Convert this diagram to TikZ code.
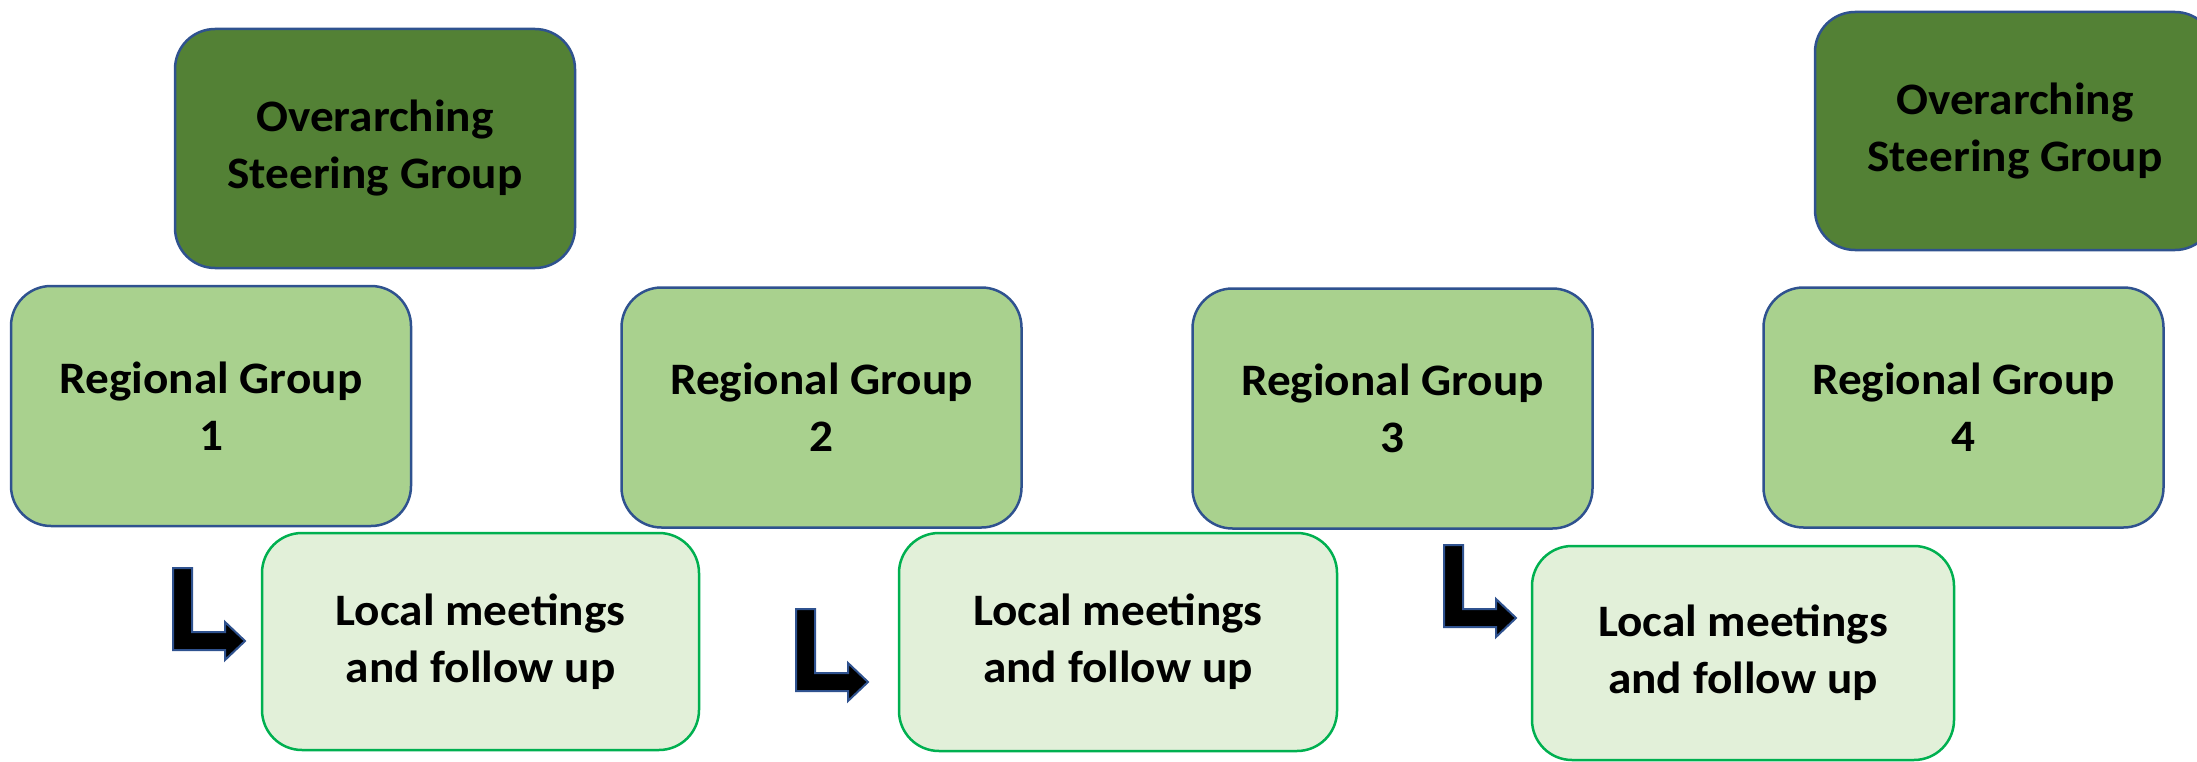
\documentclass[tikz,border=0pt]{standalone}
\usepackage{fontspec}
\setmainfont{Carlito}
\usepackage{graphicx}
\definecolor{darkg}{HTML}{538135}
\definecolor{regg}{HTML}{A9D18E}
\definecolor{localg}{HTML}{E2F0D9}
\definecolor{localb}{HTML}{00B050}
\definecolor{bordblue}{HTML}{2F528F}
\newcommand\sx[1]{\scalebox{1.05}[1]{#1}}
\tikzset{
  bentarr/.pic={
    \draw[barrow] (0,0) -- (19,0) -- (19,64) -- (52,64) -- (52,54) -- (72,73)
      -- (52,92) -- (52,82) -- (0,82) -- cycle;
  }
}
\begin{document}
\begin{tikzpicture}[x=1pt,y=-1pt,
  box/.style={rounded corners=40pt, line width=2.5pt, inner sep=0pt, align=center,
    font=\fontsize{45}{57}\selectfont\bfseries, text=black},
  steer/.style={box, fill=darkg, draw=bordblue, minimum width=400pt, minimum height=239pt},
  region/.style={box, fill=regg, draw=bordblue, minimum width=400pt, minimum height=240pt},
  localbox/.style={box, fill=localg, draw=localb},
  barrow/.style={fill=black, draw=bordblue, line width=2pt, line join=miter}]
\path[use as bounding box] (0,0) rectangle (2197,762);
\clip (0,0) rectangle (2197,762);

\node[steer] (osg1) at (375,148.5) {\sx{Overarching}\\\sx{Steering Group}};
\node[steer, minimum height=238pt] (osg2) at (2015,131) {\sx{Overarching}\\\sx{Steering Group}};

\node[region] (rg1) at (211,406) {\sx{Regional Group}\\\sx{1}};
\node[region] (rg2) at (821.5,407.5) {\sx{Regional Group}\\\sx{2}};
\node[region] (rg3) at (1392.5,408.5) {\sx{Regional Group}\\\sx{3}};
\node[region] (rg4) at (1963.5,407.5) {\sx{Regional Group}\\\sx{4}};

\node[localbox, minimum width=437pt, minimum height=217pt] (lm1) at (480.5,641.5) {\sx{Local meetings}\\\sx{and follow up}};
\node[localbox, minimum width=438pt, minimum height=218pt] (lm2) at (1118,642) {\sx{Local meetings}\\\sx{and follow up}};
\node[localbox, minimum width=422pt, minimum height=214pt] (lm3) at (1743,653) {\sx{Local meetings}\\\sx{and follow up}};

\pic at (173,568) {bentarr};
\pic at (796,609) {bentarr};
\pic at (1444,545) {bentarr};
\end{tikzpicture}
\end{document}
